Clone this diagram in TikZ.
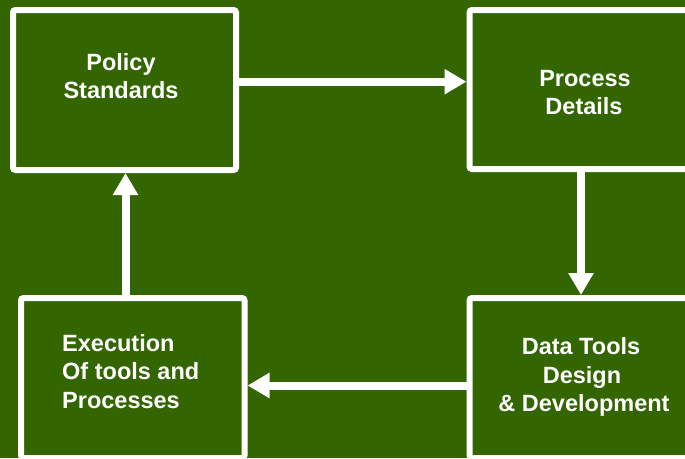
\documentclass[tikz,border=0pt]{standalone}
\usepackage{fontspec}
\setmainfont{Liberation Sans}
\usetikzlibrary{arrows.meta}
\definecolor{bggreen}{HTML}{336600}
\tikzset{
  box/.style={draw=white, line width=6pt, rounded corners=2.5pt, fill=bggreen,
    inner sep=0pt, outer sep=3pt},
  arr/.style={draw=white, line width=8pt, -{Triangle[length=22pt,width=24pt]}},
  txt/.style={text=white, font=\bfseries\fontsize{23.5}{28}\selectfont, inner sep=0pt, anchor=base},
  txtl/.style={txt, anchor=base west}
}
\begin{document}
\begin{tikzpicture}[x=1pt,y=-1pt]
\fill[bggreen] (0,0) rectangle (685,458);
\useasboundingbox (0,0) rectangle (685,458);
\node[box, minimum width=223pt, minimum height=160pt] (b1) at (124.5,90) {};
\node[box, minimum width=235pt, minimum height=159pt] (b2) at (587,89.5) {};
\node[box, minimum width=235pt, minimum height=160pt] (b3) at (587,378) {};
\node[box, minimum width=223.5pt, minimum height=160pt] (b4) at (132.75,378) {};
\node[txt] (t1a) at (121,70) {Policy};
\node[txt] (t1b) at (121,98) {Standards};
\node[txt] (t2a) at (585,86.5) {Process};
\node[txt] (t2b) at (584,114) {Details};
\node[txt] (t3a) at (581,354) {Data Tools};
\node[txt] (t3b) at (582,383) {Design};
\node[txt] (t3c) at (584,411.5) {\& Development};
\node[txtl] (t4a) at (62,351) {Execution};
\node[txtl] (t4b) at (62,379.5) {Of tools and};
\node[txtl] (t4c) at (62,408) {Processes};
\coordinate (r1) at (0,81.7);
\coordinate (c2) at (581,0);
\coordinate (r3) at (0,385.5);
\coordinate (c4) at (125.5,0);
\draw[arr] (b1.east |- r1) -- (b2.west |- r1);
\draw[arr] (b2.south -| c2) -- (b3.north -| c2);
\draw[arr] (b3.west |- r3) -- (b4.east |- r3);
\draw[arr] (b4.north -| c4) -- (b1.south -| c4);
\end{tikzpicture}
\end{document}
